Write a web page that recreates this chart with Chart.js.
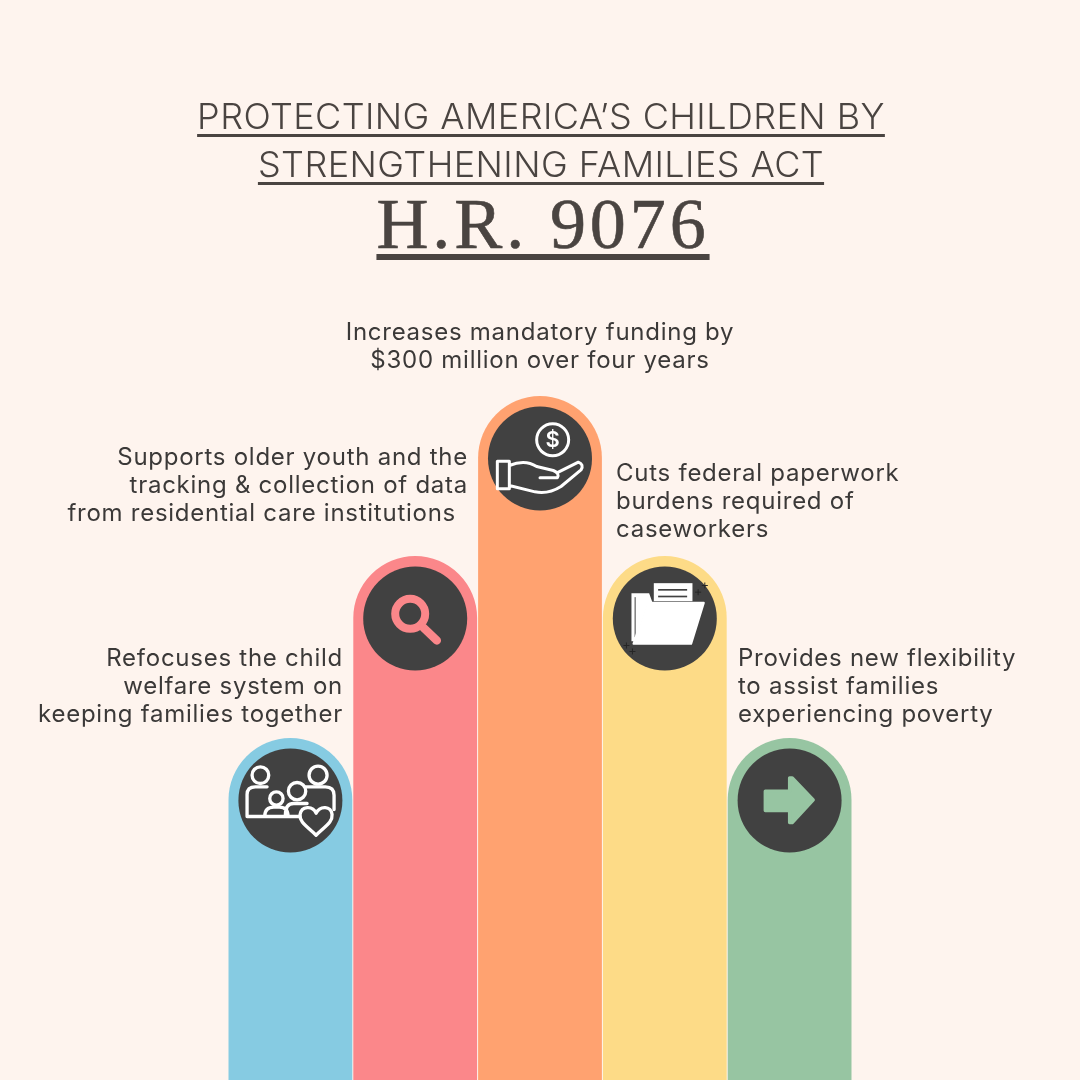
<!DOCTYPE html>
<html>
<head>
<meta charset="utf-8">
<title>H.R. 9076</title>
<script src="https://cdn.jsdelivr.net/npm/chart.js@4/dist/chart.umd.min.js"></script>
<style>
  html, body { margin: 0; padding: 0; background: #fef4ee; }
  #page { position: relative; width: 1080px; height: 1080px; overflow: hidden; font-family: Inter, "Open Sans", sans-serif; color: #3b3938; }
  #grafico { position: absolute; left: 0; top: 0; }
  .titulo { position: absolute; left: 0; width: 1080px; text-align: center; white-space: nowrap; color: #4a4441; }
  .titulo span { text-decoration: underline; }
  #titulo1, #titulo2 { font-size: 36px; font-weight: 350; line-height: 44px; letter-spacing: 0.42px; padding-left: 1px; }
  #titulo1 span, #titulo2 span { text-decoration-thickness: 3px; text-underline-offset: 5px; }
  #titulo1 { top: 94px; }
  #titulo2 { top: 142px; }
  #titulo3 { top: 180px; font-family: "Liberation Serif", serif; font-size: 72px; line-height: 88px; letter-spacing: 3.9px; padding-left: 3px; -webkit-text-stroke: 0.6px #4a4441; }
  #titulo3 span { text-decoration-thickness: 6px; text-underline-offset: 6px; }
  .nota { position: absolute; font-size: 24px; line-height: 28px; letter-spacing: 0.74px; white-space: nowrap; }
  .nota div { height: 28px; }
  #nota0 { right: 737px; top: 644px; text-align: right; }
  #nota1 { right: 612px; top: 443px; text-align: right; }
  #nota1 div:last-child { padding-right: 12px; }
  #nota2 { left: 0; width: 1080px; top: 318px; text-align: center; }
  #nota3 { left: 616px; top: 459px; }
  #nota4 { left: 738px; top: 644px; }
</style>
</head>
<body>
<div id="page">
  <canvas id="grafico" width="1080" height="1080"></canvas>
  <div id="textos"></div>
</div>
<script>
const categorias = ["Refocuses", "Supports", "Increases", "Cuts", "Provides"];
const alturas = [342, 524, 684, 524, 342];
const colores = ["#86cbe2", "#fb878a", "#ffa270", "#fddb87", "#97c5a2"];
const titulos = ["PROTECTING AMERICA’S CHILDREN BY", "STRENGTHENING FAMILIES ACT", "H.R. 9076"];
const notas = [
  ["Refocuses the child", "welfare system on", "keeping families together"],
  ["Supports older youth and the", "tracking & collection of data", "from residential care institutions"],
  ["Increases mandatory funding by", "$300 million over four years"],
  ["Cuts federal paperwork", "burdens required of", "caseworkers"],
  ["Provides new flexibility", "to assist families", "experiencing poverty"]
];

const OSCURO = "#414141";
const BLANCO = "#ffffff";

// Textos
const contenedor = document.getElementById("textos");
titulos.forEach((t, i) => {
  const d = document.createElement("div");
  d.className = "titulo";
  d.id = "titulo" + (i + 1);
  const s = document.createElement("span");
  s.textContent = t;
  d.appendChild(s);
  contenedor.appendChild(d);
});
notas.forEach((lineas, i) => {
  const d = document.createElement("div");
  d.className = "nota";
  d.id = "nota" + i;
  lineas.forEach(l => {
    const f = document.createElement("div");
    f.textContent = l;
    d.appendChild(f);
  });
  contenedor.appendChild(d);
});

function trazo(ctx, puntos, cerrar) {
  ctx.beginPath();
  puntos.forEach((p, i) => i === 0 ? ctx.moveTo(p[0], p[1]) : ctx.lineTo(p[0], p[1]));
  if (cerrar) ctx.closePath();
}

function anillo(ctx, x, y, r) {
  ctx.beginPath();
  ctx.arc(x, y, r, 0, Math.PI * 2);
  ctx.stroke();
}

// Los iconos se dibujan en una rejilla 3x; cada uno trae su propio centro
const centrosIcono = [[195, 198], [195, 204], [195, 204], [195, 204], [195, 198]];
const iconos = [
  function familia(ctx) {
    ctx.strokeStyle = BLANCO;
    ctx.lineWidth = 10;
    ctx.lineJoin = "round";
    ctx.lineCap = "round";
    anillo(ctx, 105, 122, 25);
    anillo(ctx, 278, 122, 27);
    anillo(ctx, 215, 170, 26);
    anillo(ctx, 153, 192, 20);
    ctx.beginPath();
    ctx.moveTo(118, 246);
    ctx.lineTo(65, 246);
    ctx.lineTo(65, 180);
    ctx.quadraticCurveTo(65, 157, 90, 157);
    ctx.lineTo(125, 157);
    ctx.moveTo(240, 157);
    ctx.lineTo(300, 157);
    ctx.quadraticCurveTo(326, 157, 326, 182);
    ctx.lineTo(326, 225);
    ctx.moveTo(180, 240);
    ctx.quadraticCurveTo(180, 207, 205, 207);
    ctx.lineTo(245, 207);
    ctx.moveTo(118, 246);
    ctx.quadraticCurveTo(118, 218, 145, 218);
    ctx.lineTo(162, 218);
    ctx.quadraticCurveTo(188, 218, 188, 246);
    ctx.moveTo(118, 246);
    ctx.lineTo(225, 246);
    ctx.stroke();
    ctx.beginPath();
    ctx.moveTo(272, 302);
    ctx.bezierCurveTo(240, 272, 222, 262, 224, 240);
    ctx.bezierCurveTo(228, 214, 262, 212, 272, 236);
    ctx.bezierCurveTo(284, 212, 318, 214, 320, 240);
    ctx.bezierCurveTo(322, 262, 304, 272, 272, 302);
    ctx.closePath();
    ctx.fillStyle = OSCURO;
    ctx.fill();
    ctx.stroke();
  },
  function lupa(ctx, color) {
    ctx.strokeStyle = color;
    ctx.lineCap = "round";
    ctx.lineWidth = 24;
    anillo(ctx, 180, 190, 45);
    ctx.lineWidth = 25;
    trazo(ctx, [[220, 232], [260, 270]]);
    ctx.stroke();
  },
  function mano(ctx) {
    ctx.strokeStyle = BLANCO;
    ctx.lineWidth = 9;
    ctx.lineJoin = "round";
    ctx.lineCap = "round";
    anillo(ctx, 233, 148, 48);
    ctx.fillStyle = BLANCO;
    ctx.font = "600 66px Inter, sans-serif";
    ctx.textAlign = "center";
    ctx.textBaseline = "middle";
    ctx.fillText("$", 233, 150);
    ctx.beginPath();
    ctx.rect(67, 212, 36, 83);
    ctx.moveTo(103, 225);
    ctx.quadraticCurveTo(150, 205, 185, 228);
    ctx.lineTo(235, 240);
    ctx.quadraticCurveTo(255, 248, 247, 262);
    ctx.lineTo(195, 262);
    ctx.moveTo(250, 245);
    ctx.lineTo(310, 215);
    ctx.quadraticCurveTo(328, 222, 318, 238);
    ctx.lineTo(258, 288);
    ctx.quadraticCurveTo(220, 312, 180, 304);
    ctx.lineTo(103, 285);
    ctx.stroke();
  },
  function carpeta(ctx) {
    ctx.fillStyle = BLANCO;
    trazo(ctx, [[95, 128], [148, 128], [158, 156], [142, 156], [106, 272], [95, 272]], true);
    ctx.fill();
    ctx.strokeStyle = OSCURO;
    ctx.lineWidth = 3;
    trazo(ctx, [[106, 140], [106, 260]]);
    ctx.stroke();
    ctx.fillRect(162, 98, 116, 54);
    ctx.lineWidth = 5;
    trazo(ctx, [[175, 118], [262, 118]]);
    ctx.stroke();
    trazo(ctx, [[175, 138], [262, 138]]);
    ctx.stroke();
    ctx.strokeStyle = BLANCO;
    ctx.lineJoin = "round";
    ctx.lineWidth = 6;
    trazo(ctx, [[142, 157], [312, 157], [274, 280], [101, 280]], true);
    ctx.fill();
    ctx.stroke();
    // destellos
    ctx.strokeStyle = "#262626";
    ctx.lineWidth = 3;
    [[295, 125], [315, 105], [80, 285], [98, 303]].forEach(p => {
      trazo(ctx, [[p[0] - 9, p[1]], [p[0] + 9, p[1]]]);
      ctx.stroke();
      trazo(ctx, [[p[0], p[1] - 9], [p[0], p[1] + 9]]);
      ctx.stroke();
    });
  },
  function flecha(ctx, color) {
    ctx.fillStyle = color;
    ctx.strokeStyle = color;
    ctx.lineJoin = "round";
    ctx.lineWidth = 10;
    trazo(ctx, [[122, 170], [195, 170], [195, 130], [203, 130], [266, 196], [203, 264], [195, 264], [195, 228], [122, 228]], true);
    ctx.fill();
    ctx.stroke();
  }
];

// Círculo e icono en la cabeza de cada barra
const pluginIconos = {
  id: "iconos",
  afterDatasetsDraw(chart) {
    const ctx = chart.ctx;
    chart.getDatasetMeta(0).data.forEach((barra, i) => {
      const cx = barra.x;
      const cy = barra.y + 62.5;
      ctx.save();
      ctx.fillStyle = OSCURO;
      ctx.beginPath();
      ctx.arc(cx, cy, 52, 0, Math.PI * 2);
      ctx.fill();
      ctx.translate(cx, cy);
      ctx.scale(1 / 3, 1 / 3);
      ctx.translate(-centrosIcono[i][0], -centrosIcono[i][1]);
      iconos[i](ctx, colores[i]);
      ctx.restore();
    });
  }
};

new Chart(document.getElementById("grafico"), {
  type: "bar",
  data: {
    labels: categorias,
    datasets: [{
      data: alturas,
      backgroundColor: colores,
      borderWidth: 0,
      borderRadius: { topLeft: 62, topRight: 62, bottomLeft: 0, bottomRight: 0 },
      borderSkipped: "bottom",
      barPercentage: 0.992,
      categoryPercentage: 1
    }]
  },
  options: {
    responsive: false,
    animation: false,
    layout: { padding: { left: 228, right: 228, top: 0, bottom: 0 } },
    plugins: { legend: { display: false }, tooltip: { enabled: false } },
    scales: {
      x: { display: false },
      y: { display: false, min: 0, max: 1080 }
    }
  },
  plugins: [pluginIconos]
});
</script>
</body>
</html>
